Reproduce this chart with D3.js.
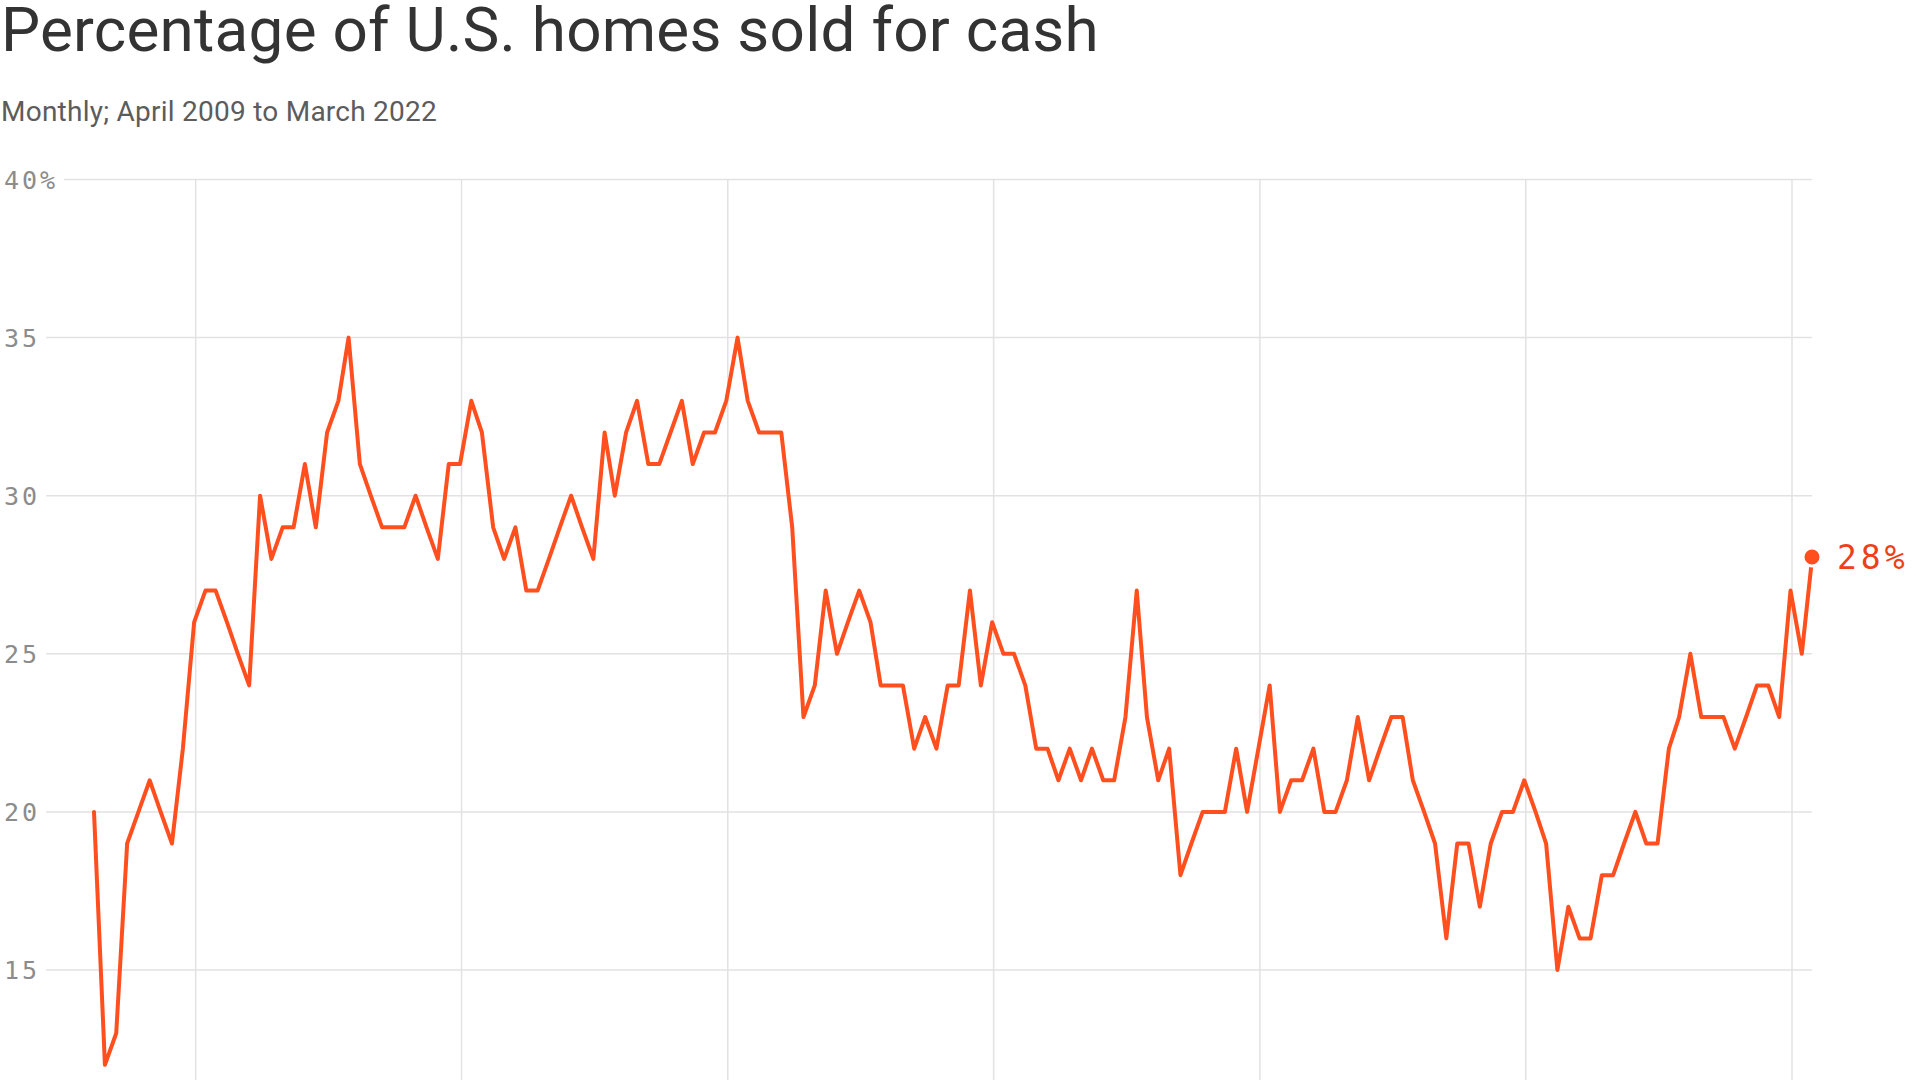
<!DOCTYPE html>
<html>
<head>
<meta charset="utf-8">
<script src="https://cdn.jsdelivr.net/npm/d3@7"></script>
<style>
  html, body { margin: 0; padding: 0; background: #fff; overflow: hidden; }
  svg { display: block; }
</style>
</head>
<body>
<svg id="chart" width="1920" height="1080"></svg>
<script>
// ---- Data ----
const titleText = "Percentage of U.S. homes sold for cash";
const subtitleText = "Monthly; April 2009 to March 2022";
const startMonth = [2009, 4];   // April 2009
const endMonth = [2022, 3];     // March 2022

const v2009 = [20, 12, 13, 19, 20, 21, 20, 19, 22];              // Apr–Dec
const v2010 = [26, 27, 27, 26, 25, 24, 30, 28, 29, 29, 31, 29];
const v2011 = [32, 33, 35, 31, 30, 29, 29, 29, 30, 29, 28, 31];
const v2012 = [31, 33, 32, 29, 28, 29, 27, 27, 28, 29, 30, 29];
const v2013 = [28, 32, 30, 32, 33, 31, 31, 32, 33, 31, 32, 32];
const v2014 = [33, 35, 33, 32, 32, 32, 29, 23, 24, 27, 25, 26];
const v2015 = [27, 26, 24, 24, 24, 22, 23, 22, 24, 24, 27, 24];
const v2016 = [26, 25, 25, 24, 22, 22, 21, 22, 21, 22, 21, 21];
const v2017 = [23, 27, 23, 21, 22, 18, 19, 20, 20, 20, 22, 20];
const v2018 = [22, 24, 20, 21, 21, 22, 20, 20, 21, 23, 21, 22];
const v2019 = [23, 23, 21, 20, 19, 16, 19, 19, 17, 19, 20, 20];
const v2020 = [21, 20, 19, 15, 17, 16, 16, 18, 18, 19, 20, 19];
const v2021 = [19, 22, 23, 25, 23, 23, 23, 22, 23, 24, 24, 23];
const v2022 = [27, 25, 28];                                      // Jan–Mar

const yTicks = [15, 20, 25, 30, 35, 40];
const yTickLabels = ["15", "20", "25", "30", "35", "40%"];
const xGridYears = [2010, 2012, 2014, 2016, 2018, 2020, 2022];
const endLabel = "28%";

// ---- Build series ----
const values = [].concat(v2009, v2010, v2011, v2012, v2013, v2014, v2015,
                         v2016, v2017, v2018, v2019, v2020, v2021, v2022);
const dates = d3.timeMonth.range(new Date(startMonth[0], startMonth[1] - 1, 1),
                                 new Date(endMonth[0], endMonth[1], 1));
const data = dates.map((d, i) => ({ date: d, value: values[i] }));

// ---- Layout ----
const svg = d3.select("#chart");
const plotLeft = 94, plotRight = 1812;
const yTop = 179.5, y15 = 970;

const x = d3.scaleTime()
  .domain([dates[0], dates[dates.length - 1]])
  .range([plotLeft, plotRight]);
const y = d3.scaleLinear().domain([15, 40]).range([y15, yTop]);

const lineColor = "#ff4f1f";

// Title
function fitText(sel, width) {
  const node = sel.node();
  const n = node.getNumberOfChars();
  const len = node.getComputedTextLength();
  sel.attr("letter-spacing", ((width - len) / n).toFixed(3));
}
const title = svg.append("text")
  .attr("x", 1).attr("y", 51)
  .attr("font-family", "Roboto, 'Noto Sans', sans-serif")
  .attr("font-size", 62)
  .attr("fill", "#333")
  .text(titleText);
fitText(title, 1098);

const subtitle = svg.append("text")
  .attr("x", 1).attr("y", 121)
  .attr("font-family", "Roboto, 'Noto Sans', sans-serif")
  .attr("font-size", 28)
  .attr("fill", "#5c5c5c")
  .text(subtitleText);
fitText(subtitle, 436);

// Y axis labels + horizontal gridlines
const yAxisG = svg.append("g");
yTicks.forEach((t, i) => {
  const lbl = yAxisG.append("text")
    .attr("x", 4).attr("y", y(t))
    .attr("dy", "0.36em")
    .attr("font-family", "'DejaVu Sans Mono', 'Liberation Mono', monospace")
    .attr("font-size", 25)
    .attr("letter-spacing", 3)
    .attr("fill", "#8c8c8c")
    .text(yTickLabels[i]);
  const bb = lbl.node().getBBox();
  yAxisG.insert("line", "text")
    .attr("x1", bb.x + bb.width + 6).attr("x2", plotRight)
    .attr("y1", y(t)).attr("y2", y(t))
    .attr("stroke", "#e2e2e2").attr("stroke-width", 1.5);
});

// Vertical gridlines
svg.append("g").selectAll("line")
  .data(xGridYears)
  .join("line")
  .attr("x1", d => x(new Date(d, 0, 1)) + 1.5).attr("x2", d => x(new Date(d, 0, 1)) + 1.5)
  .attr("y1", yTop).attr("y2", 1080)
  .attr("stroke", "#e2e2e2").attr("stroke-width", 1.5);

// Line
const line = d3.line().x(d => x(d.date)).y(d => y(d.value));
svg.append("path")
  .datum(data)
  .attr("d", line)
  .attr("fill", "none")
  .attr("stroke", lineColor)
  .attr("stroke-width", 4)
  .attr("stroke-linejoin", "round")
  .attr("stroke-linecap", "round");

// End marker + label
const last = data[data.length - 1];
svg.append("circle")
  .attr("cx", x(last.date)).attr("cy", y(last.value) - 2)
  .attr("r", 9)
  .attr("fill", lineColor)
  .attr("stroke", "#fff").attr("stroke-width", 3);

svg.append("text")
  .attr("x", x(last.date) + 25).attr("y", y(last.value) - 2)
  .attr("dy", "0.36em")
  .attr("font-family", "'DejaVu Sans Mono', 'Liberation Mono', monospace")
  .attr("font-size", 33)
  .attr("letter-spacing", 4)
  .attr("fill", "#ee3f18")
  .text(endLabel);
</script>
</body>
</html>
